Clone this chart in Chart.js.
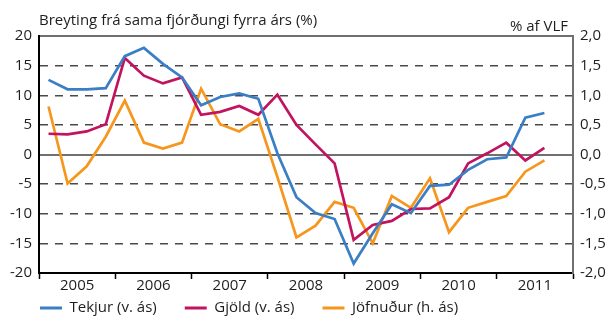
<!DOCTYPE html>
<html>
<head>
<meta charset="utf-8">
<script src="https://cdn.jsdelivr.net/npm/chart.js@4/dist/chart.umd.min.js"></script>
<style>
  html, body { margin: 0; padding: 0; background: #fff; }
  #wrap { width: 611px; height: 327px; position: relative; }
  #wrap canvas { position: absolute; left: 0; top: 0; }
  .cap {
    position: absolute;
    font: 15px/20px 'Open Sans', sans-serif;
    color: #1e1e1e;
    white-space: nowrap;
    pointer-events: none;
  }
  #capLeft { left: 39px; top: 9px; }
  #capRight { right: 43px; top: 15px; }
</style>
</head>
<body>
<div id="wrap">
  <canvas id="chart" width="611" height="327"></canvas>
  <div class="cap" id="capLeft"></div>
  <div class="cap" id="capRight"></div>
</div>
<script>
// Quarterly figures, 2005 Q1 - 2011 Q3
const years = ['2005', '2006', '2007', '2008', '2009', '2010', '2011'];
const quartersPerYear = 4;

// Revenue and expenditure, % change from same quarter a year earlier (left axis)
const tekjur = [12.6, 11.0, 11.0, 11.2, 16.6, 18.0, 15.3, 13.0, 8.3, 9.7, 10.3, 9.4,
                0.2, -7.2, -9.9, -10.9, -18.4, -13.3, -8.4, -9.9, -5.3, -5.1, -2.6, -0.8,
                -0.5, 6.2, 7.0];
const gjold  = [3.5, 3.4, 3.9, 5.1, 16.3, 13.3, 12.0, 13.0, 6.7, 7.2, 8.2, 6.7,
                10.1, 5.0, 1.7, -1.5, -14.4, -11.9, -11.2, -9.2, -9.1, -7.2, -1.5, 0.2,
                2.0, -1.0, 1.1];
// Balance, % of GDP (right axis)
const jofnudur = [0.81, -0.49, -0.20, 0.30, 0.91, 0.20, 0.10, 0.20, 1.11, 0.51, 0.39, 0.60,
                  -0.38, -1.40, -1.20, -0.80, -0.90, -1.50, -0.70, -0.90, -0.40, -1.31, -0.90, -0.80,
                  -0.70, -0.29, -0.10];

const seriesNames = ['Tekjur (v. ás)', 'Gjöld (v. ás)', 'Jöfnuður (h. ás)'];
const leftTitle = 'Breyting frá sama fjórðungi fyrra árs (%)';
const rightTitle = '% af VLF';

const BLUE = '#3a7ec6';
const RED = '#c2145e';
const ORANGE = '#f7961d';
const TEXT = '#1e1e1e';
const FONT = "'Open Sans', sans-serif";

// legend spacing between entries, and the resulting offsets of the legend row
const LEGEND_GAP = 28;
const LEGEND_SHIFT_X = 40 - LEGEND_GAP;
const LEGEND_SHIFT_Y = 3.5 - LEGEND_GAP;

// unit captions above the two value axes
document.getElementById('capLeft').textContent = leftTitle;
document.getElementById('capRight').textContent = rightTitle;

// each quarter sits in the middle of its slot on a 0..28 quarter axis
const toPoints = arr => arr.map((v, i) => ({ x: i + 0.5, y: v }));

Chart.defaults.font.family = FONT;
Chart.defaults.font.size = 15;
Chart.defaults.color = TEXT;

// legend row: start it under the plot's left edge, in the band below the year labels
const legendPlacement = {
  id: 'legendPlacement',
  afterLayout(chart) {
    const L = chart.legend;
    L.left += LEGEND_SHIFT_X; L.right += LEGEND_SHIFT_X;
    L.top += LEGEND_SHIFT_Y; L.bottom += LEGEND_SHIFT_Y;
  }
};

const defaultLabels = Chart.defaults.plugins.legend.labels.generateLabels;

const canvas = document.getElementById('chart');
canvas.getContext('2d', { willReadFrequently: true });

const chart = new Chart(canvas, {
  type: 'line',
  data: {
    datasets: [
      { label: seriesNames[0], data: toPoints(tekjur), borderColor: BLUE, backgroundColor: BLUE, yAxisID: 'y' },
      { label: seriesNames[1], data: toPoints(gjold), borderColor: RED, backgroundColor: RED, yAxisID: 'y' },
      { label: seriesNames[2], data: toPoints(jofnudur), borderColor: ORANGE, backgroundColor: ORANGE, yAxisID: 'y2' }
    ]
  },
  options: {
    responsive: false,
    devicePixelRatio: 1,
    animation: false,
    layout: { padding: { top: 36, bottom: 5 - LEGEND_GAP, left: 0, right: 0 } },
    elements: {
      line: { borderWidth: 2.7, tension: 0, fill: false },
      point: { radius: 0, hoverRadius: 0 }
    },
    scales: {
      x: {
        type: 'linear',
        min: 0,
        max: years.length * quartersPerYear,
        ticks: {
          stepSize: 2,
          autoSkip: false,
          maxRotation: 0,
          padding: -2,
          color: TEXT,
          callback: v => (v % quartersPerYear === 2 ? years[(v - 2) / quartersPerYear] : '')
        },
        grid: {
          drawOnChartArea: false,
          tickLength: 6,
          tickWidth: 1.5,
          tickColor: c => (c.tick && c.tick.value % quartersPerYear === 0 ? '#000' : 'rgba(0,0,0,0)')
        },
        border: { color: '#000', width: 2 },
        afterFit: s => { s.height = 24; }
      },
      y: {
        position: 'left',
        min: -20,
        max: 20,
        ticks: { stepSize: 5, padding: 7, color: TEXT },
        grid: {
          drawTicks: false,
          lineWidth: 1.5,
          color: c => ([20, 0, -20].includes(c.tick && c.tick.value) ? 'rgba(0,0,0,0)' : '#4a4a4a')
        },
        border: { color: '#000', width: 2, dash: [8, 7] },
        afterFit: s => { s.width = 39; }
      },
      y2: {
        position: 'right',
        min: -2,
        max: 2,
        ticks: {
          stepSize: 0.5,
          padding: 7,
          color: TEXT,
          callback: v => v.toFixed(1).replace('.', ',')
        },
        grid: {
          drawTicks: false,
          lineWidth: 2,
          color: c => ((c.tick && (c.tick.value === 0 || c.tick.value === 2)) ? '#707070' : 'rgba(0,0,0,0)')
        },
        border: { color: '#707070', width: 2 },
        afterFit: s => { s.width = 38; }
      }
    },
    plugins: {
      legend: {
        position: 'bottom',
        align: 'start',
        labels: {
          boxWidth: 22,
          boxHeight: 3,
          padding: LEGEND_GAP,
          color: TEXT,
          font: { size: 15 },
          generateLabels: c => defaultLabels(c).map(l => ({ ...l, lineWidth: 0, fillStyle: l.strokeStyle }))
        }
      },
      tooltip: { enabled: false }
    }
  },
  plugins: [legendPlacement]
});

// redraw once more on the next frame
chart.ctx.getImageData(0, 0, 1, 1);
requestAnimationFrame(() => chart.draw());
</script>
</body>
</html>
